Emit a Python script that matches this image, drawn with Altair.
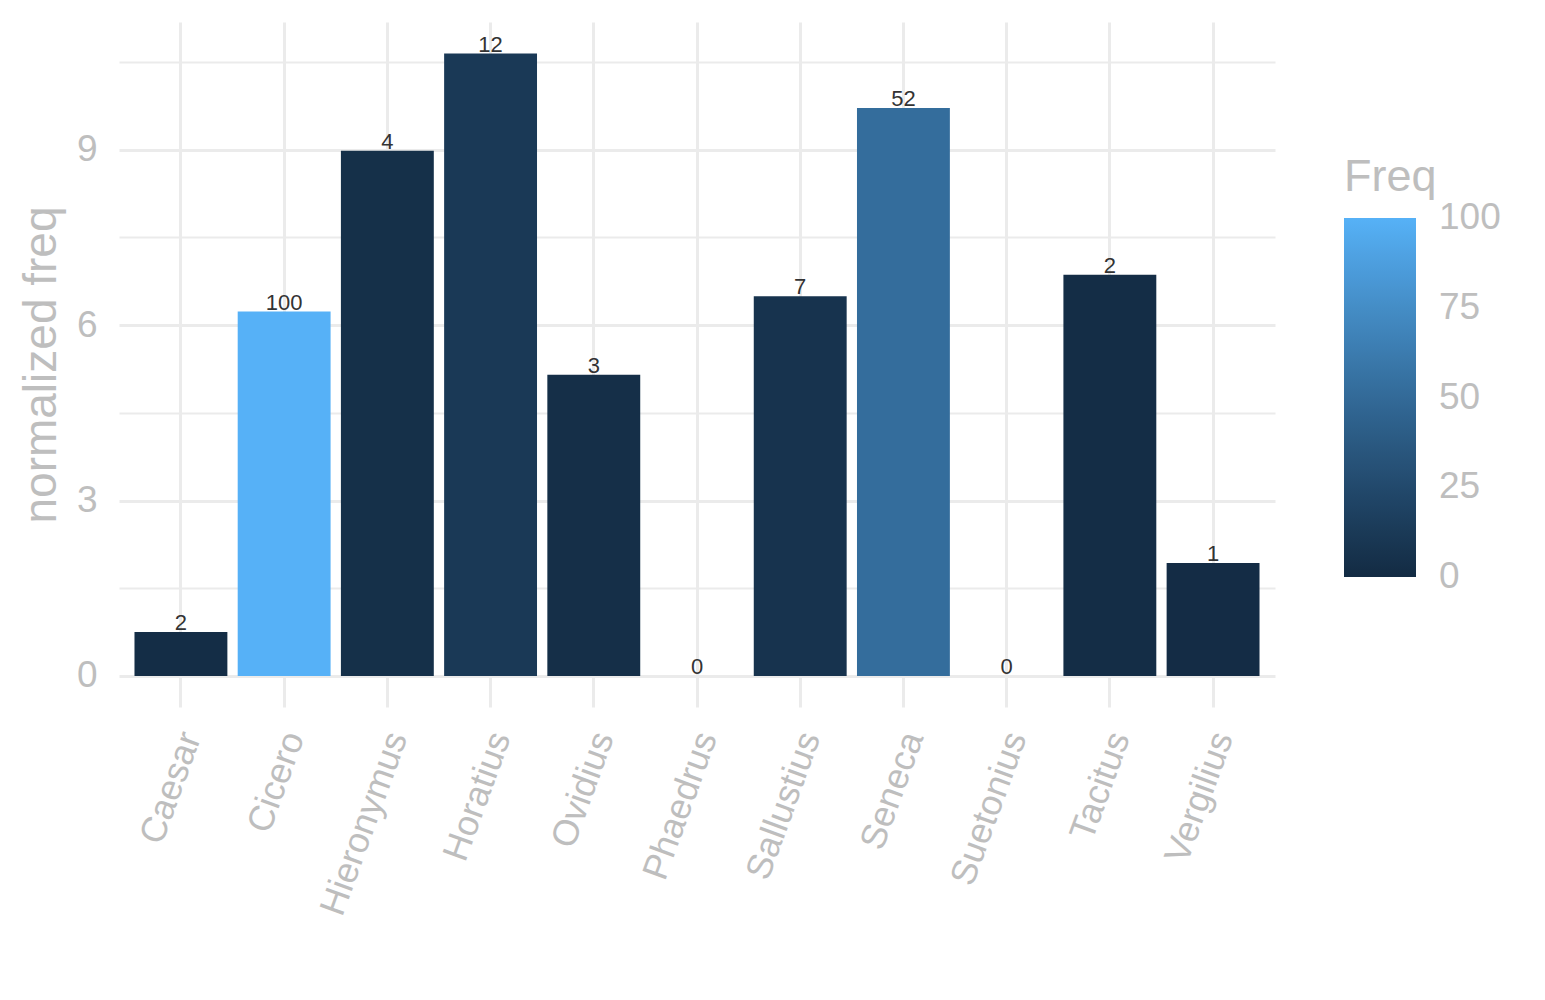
import altair as alt
import pandas as pd

authors = ["Caesar", "Cicero", "Hieronymus", "Horatius", "Ovidius", "Phaedrus",
           "Sallustius", "Seneca", "Suetonius", "Tacitus", "Vergilius"]
norm_freq = [0.75, 6.23, 8.98, 10.64, 5.15, 0.0, 6.49, 9.71, 0.0, 6.86, 1.93]
freq = [2, 100, 4, 12, 3, 0, 7, 52, 0, 2, 1]

df = pd.DataFrame({"author": authors, "nf": norm_freq, "Freq": freq})

FONT = "Liberation Sans"
GREY = "#BEBEBE"
GRID = "#EBEBEB"

x = alt.X("author:N", sort=authors, title=None,
          scale=alt.Scale(paddingInner=0.1, paddingOuter=0.15),
          axis=alt.Axis(labelAngle=-70, labelFontSize=36, labelColor=GREY, labelFont=FONT,
                        labelLimit=500, labelOffset=10,
                        ticks=False, domain=False, labelPadding=26, bandPosition=0.5,
                        grid=True, gridColor=GRID, gridWidth=3))

y = alt.Y("nf:Q", title="normalized freq",
          scale=alt.Scale(domain=[-0.53, 11.18], nice=False, zero=False),
          axis=alt.Axis(values=[0, 1.5, 3, 4.5, 6, 7.5, 9, 10.5], format="d",
                        labelExpr="datum.value % 3 == 0 ? datum.label : ''",
                        labelFontSize=37, labelColor=GREY, labelFont=FONT,
                        titleFontSize=46, titleColor=GREY, titleFont=FONT, titleFontWeight="normal",
                        titlePadding=11, ticks=False, domain=False, labelPadding=22,
                        gridColor=GRID,
                        gridWidth=alt.condition("datum.value % 3 == 0", alt.value(3), alt.value(2))))

bars = alt.Chart(df).mark_bar().encode(
    x=x,
    y=y,
    color=alt.Color("Freq:Q",
                    scale=alt.Scale(domain=[-0.05, 100.05], range=["#132B43", "#56B1F7"],
                                    interpolate="lab", nice=False, zero=False),
                    legend=alt.Legend(orient="none", legendX=1225, legendY=133,
                                      title="Freq", titleFontSize=45, titleColor=GREY,
                                      titleFont=FONT, titleFontWeight="normal", titlePadding=18,
                                      labelFontSize=37, labelColor=GREY, labelFont=FONT,
                                      labelOverlap=False,
                                      gradientLength=359, gradientThickness=72,
                                      gradientStrokeWidth=0, labelOffset=23,
                                      values=[0, 25, 50, 75, 100], direction="vertical")),
)

labels = alt.Chart(df).mark_text(fontSize=22, color="#333333", font=FONT, baseline="bottom", dy=3).encode(
    x=alt.X("author:N", sort=authors),
    y=alt.Y("nf:Q"),
    text=alt.Text("Freq:Q"),
)

chart = alt.layer(bars, labels).properties(
    width=1156, height=685,
    padding={"top": 14, "left": 10, "right": 5, "bottom": 5},
).configure_view(stroke=None)

chart.save("out.html", embed_options={"renderer": "svg", "actions": False})
